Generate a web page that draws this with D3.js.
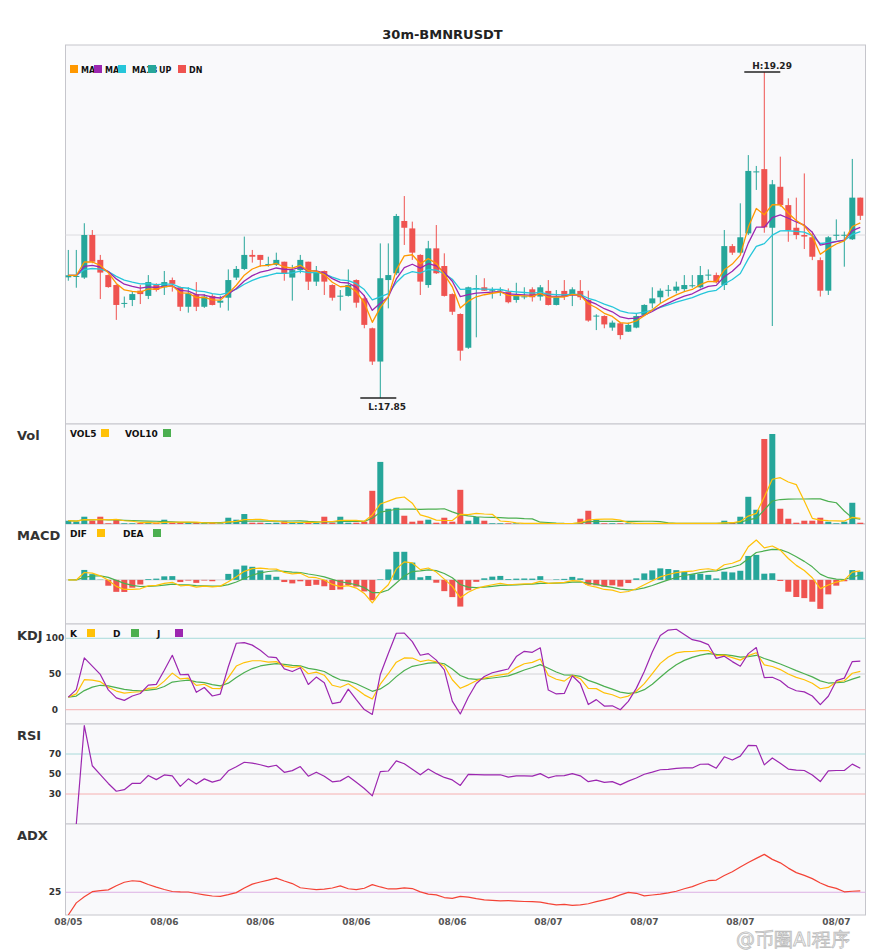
<!DOCTYPE html>
<html lang="en">
<head>
    <meta charset="UTF-8">
    <title>30m-BMNRUSDT</title>
    <script src="https://d3js.org/d3.v7.min.js"></script>
    <style>
        body {
            margin: 0;
            background: #fff;
        }
        svg text {
            font-family: "DejaVu Sans", sans-serif;
        }
    </style>
</head>
<body>
<div id="chart"></div>
<script>
    // 30m candles
    const opens = [18.383,18.385,18.382,18.570,18.460,18.393,18.349,18.267,18.283,18.324,
        18.301,18.349,18.339,18.371,18.339,18.253,18.308,18.253,18.301,18.271,
        18.293,18.382,18.420,18.482,18.482,18.439,18.438,18.452,18.382,18.415,
        18.452,18.364,18.411,18.349,18.299,18.301,18.371,18.290,18.158,18.011,
        18.371,18.401,18.632,18.599,18.482,18.349,18.511,18.433,18.309,18.221,
        18.072,18.333,18.339,18.323,18.326,18.320,18.283,18.296,18.330,18.298,
        18.323,18.261,18.323,18.308,18.323,18.283,18.211,18.212,18.161,18.180,
        18.143,18.161,18.217,18.268,18.295,18.325,18.324,18.331,18.345,18.339,
        18.392,18.393,18.349,18.521,18.492,18.577,18.848,18.861,18.602,18.783,
        18.702,18.602,18.570,18.560,18.459,18.324,18.568,18.568,18.551,18.735];
    const highs = [18.504,18.504,18.622,18.592,18.482,18.396,18.352,18.298,18.320,18.349,
        18.393,18.357,18.411,18.382,18.342,18.339,18.362,18.309,18.309,18.301,
        18.418,18.433,18.563,18.504,18.482,18.474,18.492,18.452,18.438,18.482,
        18.452,18.433,18.413,18.352,18.327,18.418,18.374,18.305,18.161,18.533,
        18.533,18.663,18.742,18.629,18.485,18.544,18.614,18.489,18.312,18.224,
        18.342,18.393,18.379,18.339,18.339,18.334,18.359,18.339,18.339,18.349,
        18.371,18.327,18.371,18.339,18.371,18.324,18.220,18.215,18.192,18.183,
        18.183,18.224,18.264,18.339,18.334,18.349,18.364,18.393,18.393,18.433,
        18.418,18.404,18.592,18.530,18.710,18.923,18.875,19.290,18.813,18.916,
        18.732,18.735,18.842,18.585,18.471,18.565,18.639,18.585,18.906,18.735];
    const lows = [18.368,18.337,18.376,18.445,18.287,18.337,18.195,18.249,18.256,18.265,
        18.287,18.320,18.305,18.320,18.234,18.227,18.234,18.248,18.259,18.249,
        18.236,18.371,18.415,18.448,18.430,18.430,18.433,18.368,18.280,18.401,
        18.327,18.345,18.305,18.280,18.236,18.298,18.249,18.158,17.996,17.850,
        18.246,18.393,18.526,18.460,18.305,18.337,18.398,18.298,18.217,18.015,
        18.067,18.118,18.323,18.289,18.301,18.268,18.271,18.286,18.276,18.280,
        18.259,18.259,18.283,18.256,18.283,18.187,18.150,18.158,18.147,18.109,
        18.142,18.158,18.214,18.246,18.268,18.298,18.312,18.320,18.337,18.334,
        18.371,18.356,18.327,18.482,18.486,18.570,18.769,18.580,18.168,18.695,
        18.540,18.551,18.508,18.459,18.298,18.305,18.548,18.430,18.548,18.636];
    const closes = [18.392,18.389,18.570,18.452,18.404,18.340,18.261,18.270,18.309,18.309,
        18.362,18.327,18.362,18.354,18.253,18.312,18.253,18.298,18.261,18.280,
        18.371,18.420,18.482,18.474,18.460,18.442,18.460,18.398,18.415,18.460,
        18.364,18.408,18.364,18.293,18.302,18.349,18.271,18.173,18.011,18.379,
        18.393,18.654,18.602,18.492,18.364,18.511,18.401,18.301,18.231,18.059,
        18.339,18.336,18.324,18.326,18.329,18.273,18.301,18.299,18.295,18.339,
        18.261,18.295,18.298,18.330,18.295,18.192,18.214,18.175,18.183,18.128,
        18.173,18.212,18.261,18.290,18.324,18.328,18.342,18.349,18.348,18.393,
        18.395,18.361,18.521,18.492,18.560,18.853,18.851,18.604,18.794,18.702,
        18.592,18.570,18.563,18.474,18.324,18.560,18.571,18.571,18.735,18.655];
    // volume, thousands
    const volumes = [3.3,2.3,7.3,3.3,7.3,0.7,4.3,0.7,0.7,1.0,
        1.0,1.3,4.3,1.3,1.3,1.0,1.3,1.0,1.0,0.7,
        6.3,4.3,10.0,1.3,1.3,1.0,1.3,2.7,1.3,1.3,
        1.3,1.3,7.3,1.3,7.3,1.3,1.3,2.3,33.3,62.3,
        15.3,16.3,8.3,2.3,3.3,4.3,1.3,6.3,2.3,34.3,
        3.3,7.0,3.3,0.7,0.7,0.7,0.7,0.4,0.4,0.7,
        0.4,0.4,0.4,0.4,5.3,13.3,4.3,0.7,0.7,0.7,
        0.7,0.7,0.7,0.7,0.7,0.7,0.7,0.7,0.7,0.7,
        0.7,0.7,3.3,1.0,7.3,27.3,14.3,85.3,90.3,15.3,
        5.3,1.3,3.3,3.3,6.3,2.3,0.7,2.3,21.3,1.3];

    const dateLabels = ['08/05','08/06','08/06','08/06','08/06','08/07','08/07','08/07','08/07'];
    const labelEvery = 12;
    const maPeriods = [5, 8, 13];
    const macdParams = [6, 13, 5];
    const priceGridValues = [18.57];
    const macdRange = [-0.15, 0.19];
    const kdjLevels = [100, 50, 0];
    const rsiLevels = [70, 50, 30];
    const adxLevels = [25];

    const N = closes.length;

    // ---------- indicators ----------
    function ema(values, n) {
        const k = 2 / (n + 1);
        const out = [values[0]];
        for (let i = 1; i < values.length; i++) {
            out.push(out[i - 1] + (values[i] - out[i - 1]) * k);
        }
        return out;
    }

    function sma(values, n) {
        return values.map((v, i) => d3.mean(values.slice(Math.max(0, i - n + 1), i + 1)));
    }

    const maLines = maPeriods.map(p => ema(closes, p));
    const vol5 = sma(volumes, 5);
    const vol10 = sma(volumes, 10);

    const emaFast = ema(closes, macdParams[0]);
    const emaSlow = ema(closes, macdParams[1]);
    const dif = emaFast.map((v, i) => v - emaSlow[i]);
    const dea = ema(dif, macdParams[2]);
    const macdHist = dif.map((v, i) => 2 * (v - dea[i]));

    // KDJ 9,3,3
    const kLine = [], dLine = [], jLine = [];
    for (let i = 0; i < N; i++) {
        const s = Math.max(0, i - 8);
        const llv = d3.min(lows.slice(s, i + 1));
        const hhv = d3.max(highs.slice(s, i + 1));
        const rsv = hhv === llv ? 50 : (closes[i] - llv) / (hhv - llv) * 100;
        const k = i === 0 ? rsv : (2 * kLine[i - 1] + rsv) / 3;
        const d = i === 0 ? k : (2 * dLine[i - 1] + k) / 3;
        kLine.push(k);
        dLine.push(d);
        jLine.push(3 * k - 2 * d);
    }

    // RSI 14, wilder smoothing
    const rsi = [null];
    {
        let ag = 0, al = 0;
        for (let i = 1; i < N; i++) {
            const ch = closes[i] - closes[i - 1];
            ag += ((ch > 0 ? ch : 0) - ag) / 14;
            al += ((ch < 0 ? -ch : 0) - al) / 14;
            rsi.push(ag + al === 0 ? 50 : 100 * ag / (ag + al));
        }
    }

    // ADX 14
    const adx = [0];
    {
        const a = 2 / 15;
        let sp = 0, sm = 0;
        for (let i = 1; i < N; i++) {
            const up = highs[i] - highs[i - 1];
            const dn = lows[i - 1] - lows[i];
            const pdm = up > dn && up > 0 ? up : 0;
            const mdm = dn > up && dn > 0 ? dn : 0;
            sp += (pdm - sp) * a;
            sm += (mdm - sm) * a;
            const dx = sp + sm === 0 ? 0 : 100 * Math.abs(sp - sm) / (sp + sm);
            adx.push(adx[i - 1] + (dx - adx[i - 1]) * a);
        }
    }

    // ---------- layout ----------
    const W = 885, H = 950;
    const gridLeft = 65.5, gridRight = 865.5;
    const panels = {
        main: {top: 45, bottom: 424},
        vol: {top: 424, bottom: 524, label: 'Vol'},
        macd: {top: 524, bottom: 624, label: 'MACD'},
        kdj: {top: 624, bottom: 724, label: 'KDJ'},
        rsi: {top: 724, bottom: 824, label: 'RSI'},
        adx: {top: 824, bottom: 915, label: 'ADX'}
    };
    const UP = '#26a69a', DN = '#ef5350';
    const maColors = ['#ff9800', '#9c27b0', '#26c6da'];
    const YEL = '#ffc107', GRN = '#4caf50', PUR = '#9c27b0';

    const svg = d3.select('#chart').append('svg')
        .attr('width', W).attr('height', H);

    const x = d3.scaleBand().domain(d3.range(N)).range([64.3, 864.3]);
    const cx = i => x(i) + x.bandwidth() / 2;
    const bodyW = x.bandwidth() * 0.75;

    const yPrice = d3.scaleLinear()
        .domain([d3.min(lows), d3.max(highs)])
        .range([panels.main.bottom - 26, panels.main.top + 27]);
    const yVol = d3.scaleLinear().domain([0, d3.max(volumes)])
        .range([panels.vol.bottom, panels.vol.top + 10]);
    const yMacd = d3.scaleLinear().domain(macdRange)
        .range([panels.macd.bottom, panels.macd.top]);
    const yKdj = d3.scaleLinear().domain([-20, 120])
        .range([panels.kdj.bottom, panels.kdj.top]);
    const yRsi = d3.scaleLinear().domain([0, 100])
        .range([panels.rsi.bottom, panels.rsi.top]);
    const yAdx = d3.scaleLinear().domain([0, 100])
        .range([panels.adx.bottom, panels.adx.top]);

    // title
    svg.append('text')
        .attr('x', W / 2).attr('y', 39)
        .attr('text-anchor', 'middle')
        .attr('font-size', 13).attr('font-weight', 'bold').attr('fill', '#222')
        .text('30m-BMNRUSDT');

    // panel frames
    Object.entries(panels).forEach(([key, p]) => {
        svg.append('rect')
            .attr('x', gridLeft).attr('y', p.top)
            .attr('width', gridRight - gridLeft).attr('height', p.bottom - p.top)
            .attr('fill', '#f9f9fb').attr('stroke', '#c6c6cc');
        svg.append('clipPath').attr('id', 'clip-' + key)
            .append('rect')
            .attr('x', gridLeft).attr('y', p.top)
            .attr('width', gridRight - gridLeft).attr('height', p.bottom - p.top);
        if (p.label) {
            svg.append('text')
                .attr('x', 17).attr('y', p.top + 16)
                .attr('font-size', 13).attr('font-weight', 'bold').attr('fill', '#333')
                .text(p.label);
        }
    });

    function hLines(values, scale, colors, labels) {
        values.forEach((v, k) => {
            svg.append('line')
                .attr('x1', gridLeft).attr('x2', gridRight)
                .attr('y1', scale(v)).attr('y2', scale(v))
                .attr('stroke', colors[k]).attr('stroke-width', 1);
            if (labels) {
                svg.append('text')
                    .attr('x', 55).attr('y', scale(v))
                    .attr('text-anchor', 'middle').attr('dominant-baseline', 'central')
                    .attr('font-size', 9).attr('font-weight', 'bold').attr('fill', '#333')
                    .text(v);
            }
        });
    }

    function drawLine(values, scale, color, clip, width) {
        const line = d3.line()
            .defined(d => d != null)
            .x((d, i) => cx(i))
            .y(d => scale(d));
        svg.append('path')
            .datum(values)
            .attr('clip-path', 'url(#clip-' + clip + ')')
            .attr('fill', 'none')
            .attr('stroke', color)
            .attr('stroke-width', width || 1.2)
            .attr('stroke-linejoin', 'round')
            .attr('d', line);
    }

    function legend(items, y, size) {
        const g = svg.append('g');
        items.forEach(it => {
            g.append('text')
                .attr('x', it.tx).attr('y', y + 7.5)
                .attr('font-size', size).attr('font-weight', 'bold').attr('fill', '#111')
                .text(it.label);
        });
        items.forEach(it => {
            g.append('rect')
                .attr('x', it.sx).attr('y', y)
                .attr('width', 8).attr('height', 8)
                .attr('fill', it.color);
        });
    }

    // ---------- main price panel ----------
    hLines(priceGridValues, yPrice, ['#dcdce0']);

    const candles = svg.append('g').attr('clip-path', 'url(#clip-main)');
    d3.range(N).forEach(i => {
        const col = closes[i] >= opens[i] ? UP : DN;
        candles.append('line')
            .attr('x1', cx(i)).attr('x2', cx(i))
            .attr('y1', yPrice(highs[i])).attr('y2', yPrice(lows[i]))
            .attr('stroke', col).attr('stroke-width', 1);
        const top = yPrice(Math.max(opens[i], closes[i]));
        const bot = yPrice(Math.min(opens[i], closes[i]));
        candles.append('rect')
            .attr('x', cx(i) - bodyW / 2).attr('y', top)
            .attr('width', bodyW).attr('height', Math.max(1, bot - top))
            .attr('fill', col);
    });

    maLines.slice().reverse().forEach((m, k) => {
        drawLine(m, yPrice, maColors[maLines.length - 1 - k], 'main', 1.3);
    });

    // high / low markers
    const hi = d3.maxIndex(highs), lo = d3.minIndex(lows);
    [[hi, highs[hi], 'H', -3.5], [lo, lows[lo], 'L', 12]].forEach(([i, v, tag, dy]) => {
        svg.append('line')
            .attr('x1', cx(i) - 20).attr('x2', cx(i) + 16)
            .attr('y1', yPrice(v)).attr('y2', yPrice(v))
            .attr('stroke', '#222').attr('stroke-width', 1.4);
        svg.append('text')
            .attr('x', cx(i) - 12).attr('y', yPrice(v) + dy)
            .attr('font-size', 9).attr('font-weight', 'bold').attr('fill', '#222')
            .text(tag + ':' + v.toFixed(2));
    });

    legend([
        {label: 'MA' + maPeriods[0], color: maColors[0], sx: 70, tx: 81},
        {label: 'MA' + maPeriods[1], color: maColors[1], sx: 94, tx: 105},
        {label: 'MA' + maPeriods[2], color: maColors[2], sx: 118, tx: 132},
        {label: 'UP', color: UP, sx: 148, tx: 159},
        {label: 'DN', color: DN, sx: 178, tx: 189}
    ], 65, 8);

    // ---------- volume ----------
    const volG = svg.append('g').attr('clip-path', 'url(#clip-vol)');
    volG.selectAll('rect').data(volumes).enter().append('rect')
        .attr('x', (d, i) => cx(i) - bodyW / 2)
        .attr('y', d => yVol(d))
        .attr('width', bodyW)
        .attr('height', d => yVol(0) - yVol(d))
        .attr('fill', (d, i) => closes[i] >= opens[i] ? UP : DN);
    drawLine(vol10, yVol, GRN, 'vol');
    drawLine(vol5, yVol, YEL, 'vol');
    legend([
        {label: 'VOL5', color: YEL, sx: 101, tx: 70},
        {label: 'VOL10', color: GRN, sx: 163, tx: 125}
    ], 429, 9);

    // ---------- MACD ----------
    hLines([0], yMacd, ['#d6d6da']);
    const macdG = svg.append('g').attr('clip-path', 'url(#clip-macd)');
    macdG.selectAll('rect').data(macdHist).enter().append('rect')
        .attr('x', (d, i) => cx(i) - bodyW / 2)
        .attr('y', d => Math.min(yMacd(d), yMacd(0)))
        .attr('width', bodyW)
        .attr('height', d => Math.abs(yMacd(d) - yMacd(0)))
        .attr('fill', d => d >= 0 ? UP : DN);
    drawLine(dea, yMacd, GRN, 'macd');
    drawLine(dif, yMacd, YEL, 'macd');
    legend([
        {label: 'DIF', color: YEL, sx: 97, tx: 70},
        {label: 'DEA', color: GRN, sx: 153, tx: 123}
    ], 529, 9);

    // ---------- KDJ ----------
    hLines(kdjLevels, yKdj, ['#a8dada', '#d2d2d6', '#f6b0b0'], true);
    drawLine(dLine, yKdj, GRN, 'kdj');
    drawLine(kLine, yKdj, YEL, 'kdj');
    drawLine(jLine, yKdj, PUR, 'kdj');
    legend([
        {label: 'K', color: YEL, sx: 87, tx: 70},
        {label: 'D', color: GRN, sx: 131, tx: 113},
        {label: 'J', color: PUR, sx: 175, tx: 157}
    ], 629, 9);

    // ---------- RSI ----------
    hLines(rsiLevels, yRsi, ['#a8dada', '#d2d2d6', '#f6b0b0'], true);
    drawLine(rsi, yRsi, PUR, 'rsi');

    // ---------- ADX ----------
    hLines(adxLevels, yAdx, ['#dcb0e4'], true);
    drawLine(adx, yAdx, '#f44336', 'adx');

    // ---------- x axis labels ----------
    dateLabels.forEach((lab, k) => {
        svg.append('text')
            .attr('x', cx(k * labelEvery)).attr('y', 925)
            .attr('text-anchor', 'middle')
            .attr('font-size', 9).attr('font-weight', 'bold').attr('fill', '#555')
            .text(lab);
    });

    // watermark, kept just under the axis labels
    svg.append('text')
        .attr('x', 736).attr('y', 946)
        .attr('font-family', '"Noto Sans CJK SC", sans-serif')
        .attr('font-size', 19)
        .attr('fill', '#f4f4f4').attr('stroke', '#b8b8b8').attr('stroke-width', 0.8)
        .attr('opacity', 0.9)
        .text('@币圈AI程序');
</script>
</body>
</html>
